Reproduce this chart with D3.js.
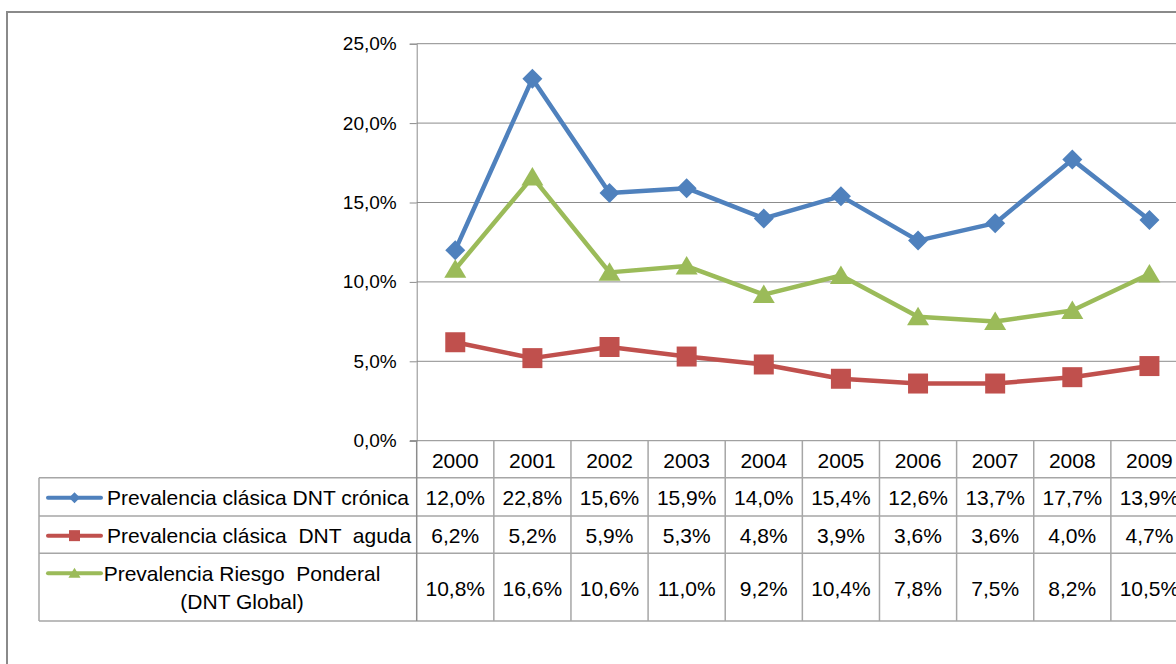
<!DOCTYPE html>
<html>
<head>
<meta charset="utf-8">
<script src="https://cdn.jsdelivr.net/npm/d3@7"></script>
<style>
  html, body { margin: 0; padding: 0; background: #fff; }
  svg { display: block; font-family: "Liberation Sans", Arial, sans-serif; }
</style>
</head>
<body>
<svg id="chart" width="1176" height="664"></svg>
<script>
// Datos
const years = ['2000', '2001', '2002', '2003', '2004', '2005', '2006', '2007', '2008', '2009'];
const cronica = [12.0, 22.8, 15.6, 15.9, 14.0, 15.4, 12.6, 13.7, 17.7, 13.9];
const aguda = [6.2, 5.2, 5.9, 5.3, 4.8, 3.9, 3.6, 3.6, 4.0, 4.7];
const global = [10.8, 16.6, 10.6, 11.0, 9.2, 10.4, 7.8, 7.5, 8.2, 10.5];
const yTicks = [0, 5, 10, 15, 20, 25];

const seriesNames = [
    ['Prevalencia clásica DNT crónica'],
    ['Prevalencia clásica  DNT  aguda'],
    ['Prevalencia Riesgo  Ponderal', '(DNT Global)']
];

const series = [
    { values: cronica, color: '#4F81BD', marker: 'diamond' },
    { values: aguda, color: '#C0504D', marker: 'square' },
    { values: global, color: '#9BBB59', marker: 'triangle' }
];

const fmt = v => v.toFixed(1).replace('.', ',') + '%';

const svg = d3.select('#chart');

// Marco exterior
svg.append('rect')
    .attr('x', 7).attr('y', 12)
    .attr('width', 1240).attr('height', 720)
    .attr('fill', 'none')
    .attr('stroke', '#8a8a8a')
    .attr('stroke-width', 2);

// Escalas
const x = d3.scaleBand().domain(years).range([416.7, 1188]);
const y = d3.scaleLinear().domain([0, 25]).range([440.7, 43.7]);

// Rejilla horizontal
svg.append('g')
    .selectAll('line')
    .data(yTicks.filter(d => d > 0))
    .join('line')
    .attr('x1', 416.7).attr('x2', 1188)
    .attr('y1', d => y(d)).attr('y2', d => y(d))
    .attr('stroke', '#8c8c8c')
    .attr('stroke-width', 1);

// Eje Y
const yAxis = svg.append('g')
    .attr('transform', 'translate(416.7,0)')
    .call(d3.axisLeft(y).tickValues(yTicks).tickSize(7).tickPadding(13).tickFormat(fmt));
yAxis.select('.domain').attr('stroke', '#8c8c8c');
yAxis.selectAll('.tick line').attr('stroke', '#8c8c8c');
yAxis.selectAll('.tick text')
    .attr('font-size', 19)
    .attr('fill', '#000')
    .attr('font-family', '"Liberation Sans", Arial, sans-serif');

// Tabla de datos
const rowLines = [440.7, 477.7, 516, 553.3, 621];
const tableG = svg.append('g');
tableG.append('line')
    .attr('x1', 410).attr('x2', 1188)
    .attr('y1', rowLines[0]).attr('y2', rowLines[0])
    .attr('stroke', '#8c8c8c');
tableG.selectAll('.hline')
    .data(rowLines.slice(1))
    .join('line')
    .attr('class', 'hline')
    .attr('x1', 39).attr('x2', 1188)
    .attr('y1', d => d).attr('y2', d => d)
    .attr('stroke', '#a6a6a6')
    .attr('stroke-width', 1.5);
tableG.append('line')
    .attr('x1', 39).attr('x2', 39)
    .attr('y1', rowLines[1]).attr('y2', rowLines[4])
    .attr('stroke', '#a6a6a6')
    .attr('stroke-width', 1.5);
tableG.append('line')
    .attr('x1', 416.7).attr('x2', 416.7)
    .attr('y1', rowLines[0]).attr('y2', rowLines[4])
    .attr('stroke', '#8c8c8c')
    .attr('stroke-width', 1.5);
tableG.selectAll('.vline')
    .data(years.slice(1))
    .join('line')
    .attr('class', 'vline')
    .attr('x1', d => x(d)).attr('x2', d => x(d))
    .attr('y1', rowLines[0]).attr('y2', rowLines[4])
    .attr('stroke', '#a6a6a6')
    .attr('stroke-width', 1.5);

// Cabecera de años
tableG.selectAll('.year')
    .data(years)
    .join('text')
    .attr('class', 'year')
    .attr('x', d => x(d) + x.bandwidth() / 2)
    .attr('y', (rowLines[0] + rowLines[1]) / 2 + 1)
    .attr('text-anchor', 'middle')
    .attr('dominant-baseline', 'central')
    .attr('font-size', 21)
    .text(d => d);

// Valores de cada serie
series.forEach((s, i) => {
    const cy = (rowLines[i + 1] + rowLines[i + 2]) / 2 + 1;
    tableG.selectAll('.val' + i)
        .data(s.values)
        .join('text')
        .attr('class', 'val' + i)
        .attr('x', (d, j) => x(years[j]) + x.bandwidth() / 2)
        .attr('y', cy)
        .attr('text-anchor', 'middle')
        .attr('dominant-baseline', 'central')
        .attr('font-size', 21)
        .text(fmt);

    // Leyenda
    const legG = tableG.append('g');
    legG.append('line')
        .attr('x1', 48).attr('x2', 101)
        .attr('y1', cy).attr('y2', cy)
        .attr('stroke', s.color)
        .attr('stroke-width', 4)
        .attr('stroke-linecap', 'round');
    legG.append('path')
        .attr('transform', `translate(74.5,${cy})`)
        .attr('d', markerPath(s.marker, 0.55))
        .attr('fill', s.color);

    const lines = seriesNames[i];
    if (lines.length === 1) {
        legG.append('text')
            .attr('x', 107)
            .attr('y', cy)
            .attr('dominant-baseline', 'central')
            .attr('font-size', 21)
            .style('white-space', 'pre')
            .text(lines[0]);
    } else {
        legG.selectAll('.ml')
            .data(lines)
            .join('text')
            .attr('class', 'ml')
            .attr('x', 242)
            .attr('y', (d, k) => cy - 15 + k * 28)
            .attr('text-anchor', 'middle')
            .attr('dominant-baseline', 'central')
            .attr('font-size', 21)
            .style('white-space', 'pre')
            .text(d => d);
        // recolocar la clave junto a la primera línea
        legG.select('line').attr('y1', cy - 15).attr('y2', cy - 15);
        legG.select('path').attr('transform', `translate(74.5,${cy - 15})`);
    }
});

// Formas de marcador
function markerPath(type, k) {
    if (type === 'diamond') {
        const r = 10 * k;
        return `M0,${-r}L${r},0L0,${r}L${-r},0Z`;
    }
    if (type === 'square') {
        const h = 10 * k;
        return `M${-h},${-h}H${h}V${h}H${-h}Z`;
    }
    const w = 11 * k, t = 10 * k;
    return `M0,${-t}L${w},${t * 0.85}L${-w},${t * 0.85}Z`;
}

// Líneas y marcadores
const line = d3.line()
    .x((d, j) => x(years[j]) + x.bandwidth() / 2)
    .y(d => y(d));

const plotG = svg.append('g');
series.forEach(s => {
    plotG.append('path')
        .datum(s.values)
        .attr('d', line)
        .attr('fill', 'none')
        .attr('stroke', s.color)
        .attr('stroke-width', 4.5)
        .attr('stroke-linejoin', 'round');
    plotG.selectAll(null)
        .data(s.values)
        .join('path')
        .attr('transform', (d, j) => `translate(${x(years[j]) + x.bandwidth() / 2},${y(d)})`)
        .attr('d', markerPath(s.marker, 1))
        .attr('fill', s.color);
});
</script>
</body>
</html>
